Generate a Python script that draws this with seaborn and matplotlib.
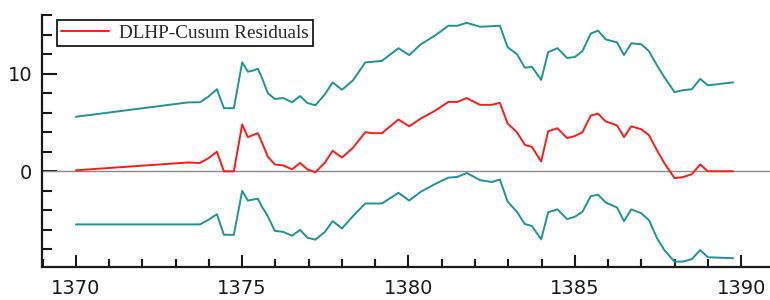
import pandas as pd
import seaborn as sns
import matplotlib.pyplot as plt
from matplotlib.ticker import MultipleLocator

# values
years = [1370.00, 1373.37, 1373.73, 1373.97, 1374.24, 1374.45, 1374.75, 1375.00,
         1375.17, 1375.32, 1375.47, 1375.59, 1375.77, 1375.98, 1376.23, 1376.50,
         1376.74, 1376.96, 1377.20, 1377.49, 1377.72, 1378.00, 1378.33, 1378.70,
         1378.90, 1379.20, 1379.70, 1380.02, 1380.37, 1380.80, 1381.20, 1381.47,
         1381.75, 1382.15, 1382.50, 1382.75, 1382.98, 1383.26, 1383.50, 1383.71,
         1383.99, 1384.20, 1384.48, 1384.77, 1385.00, 1385.23, 1385.48, 1385.70,
         1385.93, 1386.27, 1386.48, 1386.70, 1387.00, 1387.23, 1387.48, 1387.70,
         1388.00, 1388.25, 1388.52, 1388.77, 1389.00, 1389.76]

residuals = [0.1, 0.9, 0.85, 1.3, 2.0, 0.0, 0.0, 4.8,
             3.5, 3.7, 3.9, 3.0, 1.5, 0.7, 0.6, 0.2,
             0.85, 0.2, -0.1, 0.9, 2.1, 1.4, 2.4, 4.0,
             3.9, 3.9, 5.3, 4.6, 5.4, 6.2, 7.1, 7.1,
             7.5, 6.8, 6.8, 7.0, 4.9, 4.0, 2.7, 2.5,
             1.0, 4.1, 4.4, 3.4, 3.6, 4.0, 5.7, 5.9,
             5.1, 4.7, 3.5, 4.6, 4.3, 3.7, 2.1, 0.8,
             -0.7, -0.6, -0.3, 0.7, 0.0, 0.0]

upper_band = [5.58, 7.05, 7.07, 7.6, 8.4, 6.46, 6.46, 11.15,
              10.2, 10.3, 10.5, 9.6, 8.0, 7.4, 7.5, 7.07,
              7.7, 7.0, 6.75, 7.9, 9.1, 8.35, 9.3, 11.15,
              11.2, 11.3, 12.6, 11.9, 13.0, 13.9, 14.9, 14.9,
              15.2, 14.8, 14.85, 14.9, 12.7, 12.0, 10.6, 10.7,
              9.36, 12.2, 12.6, 11.6, 11.7, 12.3, 14.1, 14.4,
              13.5, 13.2, 11.9, 13.1, 13.0, 12.3, 10.8, 9.6,
              8.1, 8.3, 8.4, 9.46, 8.8, 9.1]

lower_band = [-5.44, -5.44, -5.44, -5.0, -4.4, -6.5, -6.5, -2.0,
              -3.0, -2.9, -2.8, -3.6, -4.6, -6.1, -6.2, -6.6,
              -6.0, -6.8, -7.0, -6.2, -5.1, -5.85, -4.6, -3.3,
              -3.3, -3.3, -2.2, -3.0, -2.1, -1.3, -0.65, -0.58,
              -0.17, -0.9, -1.1, -0.85, -3.1, -4.15, -5.4, -5.6,
              -6.97, -4.2, -3.9, -4.9, -4.66, -4.15, -2.55, -2.4,
              -3.2, -3.7, -5.1, -3.9, -4.3, -5.0, -6.9, -8.1,
              -9.25, -9.25, -9.0, -8.06, -8.8, -8.9]

df = pd.DataFrame({'year': years, 'cusum': residuals,
                   'upper': upper_band, 'lower': lower_band})

sns.set_theme(style="white")
plt.rcParams['font.family'] = ['DejaVu Sans']

teal = '#1e9494'
red = '#ff1a1a'

fig = plt.figure(figsize=(7.7, 3.0), dpi=100)
ax = fig.add_axes([0.0545, 0.11, 0.9455, 0.84])

ax.axhline(0, color='#8a8a8a', lw=1.0, zorder=1)
sns.lineplot(data=df, x='year', y='upper', color=teal, lw=1.4, ax=ax, legend=False)
sns.lineplot(data=df, x='year', y='lower', color=teal, lw=1.4, ax=ax, legend=False)
sns.lineplot(data=df, x='year', y='cusum', color=red, lw=1.4, ax=ax,
             label='DLHP-Cusum Residuals')

ax.set_xlim(1368.98, 1390.87)
ax.set_ylim(-9.8, 16.0)
ax.set_xlabel('')
ax.set_ylabel('')

ax.xaxis.set_major_locator(MultipleLocator(5))
ax.xaxis.set_minor_locator(MultipleLocator(1))
ax.yaxis.set_major_locator(MultipleLocator(10))
ax.yaxis.set_minor_locator(MultipleLocator(2))

for side in ['top', 'right']:
    ax.spines[side].set_visible(False)
for side in ['left', 'bottom']:
    ax.spines[side].set_color('#1a1a1a')
    ax.spines[side].set_linewidth(1.6)

ax.tick_params(axis='x', which='major', direction='in', length=9, width=1.5,
               color='#1a1a1a', labelsize=14, pad=9, bottom=True)
ax.tick_params(axis='x', which='minor', direction='in', length=5.5, width=1.5,
               color='#1a1a1a', bottom=True)
ax.tick_params(axis='y', which='major', direction='in', length=11, width=1.5,
               color='#1a1a1a', labelsize=14, pad=7, left=True)
ax.tick_params(axis='y', which='minor', direction='in', length=7.5, width=1.5,
               color='#1a1a1a', left=True)
for lab in ax.get_xticklabels() + ax.get_yticklabels():
    lab.set_color('#1a1a1a')

leg = ax.legend(loc='upper left', bbox_to_anchor=(0.0206, 0.98), borderaxespad=0,
                frameon=True, fancybox=False, handlelength=2.5, handletextpad=0.5,
                borderpad=0.22, prop={'family': 'Liberation Serif', 'size': 13.8})
leg.get_frame().set_edgecolor('#1a1a1a')
leg.get_frame().set_linewidth(1.3)
leg.get_frame().set_alpha(1)

fig.savefig('out.png', dpi=100)
